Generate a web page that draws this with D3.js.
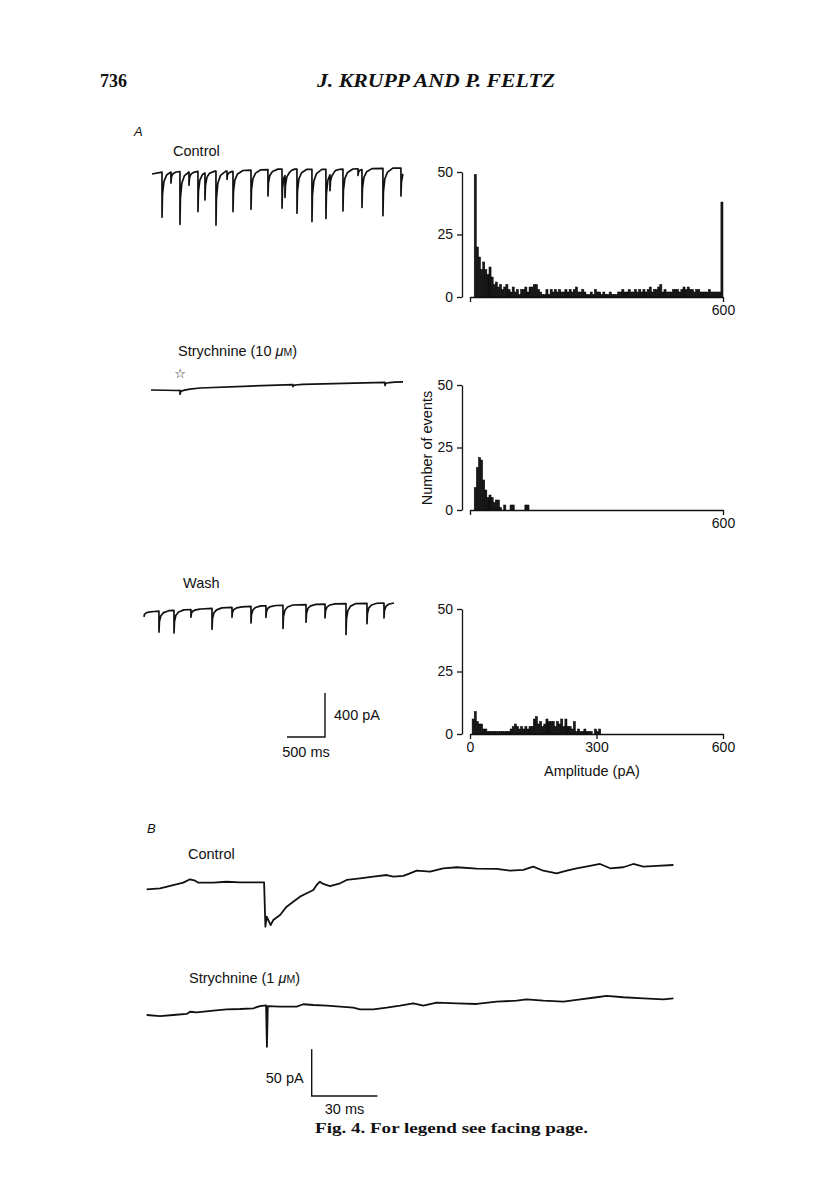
<!DOCTYPE html>
<html>
<head>
<meta charset="utf-8">
<script src="https://cdn.jsdelivr.net/npm/d3@7"></script>
<style>
body { margin: 0; background: #fff; }
svg text { font-family: "Liberation Sans", Arial, sans-serif; fill: #111; }
.serif { font-family: "Liberation Serif", "DejaVu Serif", serif; }
</style>
</head>
<body>
<svg width="816" height="1200"></svg>
<script>

// ---- panel A traces: baseline [ms, pA] and events [ms, amplitude pA] ----
var controlBase = [[0,0],[171,23],[1026,27],[1684,45],[2342,41],[3303,55]];
var controlEvents = [[132,410],[250,100],[368,480],[487,120],[605,365],[697,245],[842,490],[987,75],
  [1066,365],[1303,355],[1526,240],[1711,355],[1750,200],[1908,400],[2105,475],[2289,445],
  [2342,145],[2513,380],[2711,60],[2763,345],[3039,430],[3276,255]];

var strychBase = [[0,0],[355,-4.5],[645,18],[1303,36],[1961,50],[3316,73]];
var strychEvents = [[382,36],[1868,18],[3079,27]];

var washBase = [[0,0],[737,27],[1526,55],[2447,73],[3289,82]];
var washEvents = [[0,45],[197,190],[395,205],[618,70],[895,190],[1158,90],[1408,150],[1605,105],
  [1829,210],[2132,160],[2382,125],[2658,280],[2934,185],[3158,135]];

// ---- amplitude histograms, 5 pA bins from 0 to 600 ----
var binWidth = 5;
var controlCounts = [0,0,49,20,16,11,14,11,9,12, 8,5,6,4,5,3,4,5,3,2,
  4,2,3,1,3,3,4,2,4,4, 5,5,3,2,1,1,3,1,3,2, 3,2,3,2,2,3,2,3,2,3,
  4,2,2,3,2,1,1,2,1,3, 2,2,1,2,1,1,2,1,1,1, 2,2,3,2,2,3,2,2,3,2,
  3,2,3,2,3,4,2,3,3,4, 5,2,3,2,2,2,3,3,3,2, 3,4,3,4,3,3,2,3,3,2,
  2,2,2,3,2,2,2,2,2,38];
var strychCounts = [0,0,9,17,21,20,12,8,5,6, 5,3,4,4,1,0,2,0,0,2,
  2,0,0,0,0,0,2,2,0,0].concat(d3.range(90).map(function(){ return 0; }));
var washCounts = [0,6,9,5,4,4,2,2,1,1, 1,1,1,1,1,1,1,1,1,2,
  3,4,3,2,3,2,3,2,3,3, 6,7,4,5,3,4,6,5,5,5, 3,5,4,6,3,6,3,3,2,5,
  1,2,1,1,2,1,1,1,0,2, 1,2].concat(d3.range(58).map(function(){ return 0; }));

var yTicks = [0, 25, 50];
var xTicksShort = [0, 600];
var xTicksFull = [0, 300, 600];

// ---- panel B traces [ms, pA] ----
var bControl = [[0,0],[6.1,1.1],[12.1,4.6],[16.7,7.1],[19.8,10.7],[22.1,9.2],[23.6,7.1],[30.4,7.1],
  [36.5,8.1],[42.6,7.5],[48.7,7.5],[53.6,7.5],[54.2,-40.1],[54.8,-29.4],[56.6,-38.3],[57.8,-32.9],
  [60.9,-27.5],[63.9,-18.6],[66.9,-13.3],[70.0,-7.9],[73.1,-4.3],[76.1,-0.8],[77.6,4.6],[79.1,8.1],
  [80.6,5.7],[83.7,3.5],[88.3,6.4],[91.3,10.0],[97.4,11.8],[103.5,13.5],[109.6,15.3],[112.6,13.5],
  [117.2,14.3],[120.2,17.1],[123.3,19.9],[129.4,18.9],[135.4,22.5],[141.6,23.6],[150.7,22.1],
  [159.8,21.8],[165.9,19.9],[172.0,20.7],[176.5,24.2],[181.1,19.9],[187.2,17.1],[191.8,19.9],
  [196.3,22.5],[202.4,25.0],[207.0,27.1],[211.6,22.5],[217.6,23.6],[222.2,27.1],[226.8,24.2],
  [232.9,25.0],[240.5,26.0]];
var bStrych = [[0,0],[6.1,-1.1],[12.1,0],[18.3,1.1],[19.8,3.5],[22.8,2.9],[30.4,4.6],[36.5,6.1],
  [42.6,6.4],[48.7,7.2],[51.7,9.6],[54.5,10.4],[54.9,-34.0],[55.3,9.6],[60.9,8.9],[68.5,8.9],
  [71.5,11.5],[76.1,10.7],[82.2,10.0],[88.3,8.9],[94.3,7.8],[97.4,6.1],[103.5,6.1],[109.6,7.8],
  [115.7,10.0],[121.7,12.5],[126.3,10.0],[132.4,13.2],[141.6,12.5],[150.7,11.8],[159.8,14.3],
  [168.9,15.3],[173.5,16.8],[181.1,15.3],[190.3,14.3],[196.3,16.1],[205.5,19.0],[210.0,20.4],
  [217.6,19.0],[226.8,17.9],[235.9,16.8],[240.5,17.9]];

// event glyph: fraction of peak left after dt ms
var decayShape = [[0,1],[6,0.5],[25,0.22],[60,0.08],[130,0]];

var svg = d3.select("svg");

// header
svg.append("text").attr("class","serif").attr("x",100).attr("y",87)
  .attr("font-size",18).attr("font-weight","bold").text("736");
svg.append("text").attr("class","serif").attr("x",317).attr("y",87)
  .attr("font-size",18).attr("font-weight","bold").attr("font-style","italic")
  .attr("textLength",238).attr("lengthAdjust","spacingAndGlyphs")
  .text("J. KRUPP AND P. FELTZ");

// A scales (px per unit), scale bar 500 ms / 400 pA
var xA = d3.scaleLinear().domain([0,500]).range([0,38]);
var yA = d3.scaleLinear().domain([0,400]).range([0,44]);

function buildTrace(base, events){
  var baseAt = d3.scaleLinear().domain(base.map(function(d){return d[0];}))
    .range(base.map(function(d){return d[1];})).clamp(true);
  var shape = d3.scaleLinear().domain(decayShape.map(function(d){return d[0];}))
    .range(decayShape.map(function(d){return d[1];})).clamp(true);
  var tEnd = base[base.length-1][0];
  var times = base.map(function(d){return d[0];});
  events.forEach(function(e){
    times.push(e[0]-0.5);
    decayShape.forEach(function(k){ times.push(e[0]+k[0]); });
  });
  times = Array.from(new Set(times)).filter(function(t){ return t>=0 && t<=tEnd; }).sort(d3.ascending);
  return times.map(function(t){
    var v = baseAt(t);
    events.forEach(function(e){
      var dt = t - e[0];
      if (dt >= 0 && dt <= 130) v -= e[1]*shape(dt);
    });
    return [t, v];
  });
}

function drawTraceA(base, events, x0, y0){
  var line = d3.line()
    .x(function(d){ return x0 + xA(d[0]); })
    .y(function(d){ return y0 - yA(d[1]); });
  svg.append("path").datum(buildTrace(base, events))
    .attr("d", line).attr("fill","none").attr("stroke","#111")
    .attr("stroke-width",1.7).attr("stroke-linejoin","round");
}

function label(x, y, txt, unit){
  var t = svg.append("text").attr("x",x).attr("y",y).attr("font-size",14.5);
  t.append("tspan").text(txt);
  if (unit){
    t.append("tspan").attr("font-style","italic").text("μ");
    t.append("tspan").attr("font-size",10.5).text("M");
    t.append("tspan").text(")");
  }
}

svg.append("text").attr("x",134).attr("y",136).attr("font-size",13)
  .attr("font-style","italic").text("A");

label(173,156,"Control");
drawTraceA(controlBase, controlEvents, 152, 174);

label(178,356,"Strychnine (10 ", true);
drawTraceA(strychBase, strychEvents, 151, 390);
svg.append("text").attr("x",151 + xA(strychEvents[0][0])).attr("y",378)
  .attr("text-anchor","middle").attr("font-size",13)
  .style("font-family","DejaVu Sans").text("☆");

label(183,588,"Wash");
drawTraceA(washBase, washEvents, 144, 612);

// scale bar A
var sbA = svg.append("g").attr("transform","translate(325,737)");
sbA.append("path").attr("d","M" + (-xA(500)) + ",0H0V" + (-yA(400)))
  .attr("fill","none").attr("stroke","#111").attr("stroke-width",1.4);
sbA.append("text").attr("x",9).attr("y",-17).attr("font-size",14.5).text("400 pA");
sbA.append("text").attr("x",-xA(500)/2).attr("y",20).attr("text-anchor","middle")
  .attr("font-size",14.5).text("500 ms");

// histograms
var xH = d3.scaleLinear().domain([0,600]).range([470,723]);

function drawHist(counts, y0, ticks, labelAll){
  var yH = d3.scaleLinear().domain([0,50]).range([y0, y0-125]);
  var g = svg.append("g");
  g.selectAll("rect").data(counts).enter().append("rect")
    .attr("x", function(d,i){ return xH(i*binWidth); })
    .attr("width", xH(binWidth) - xH(0))
    .attr("y", function(d){ return yH(d); })
    .attr("height", function(d){ return y0 - yH(d); })
    .attr("fill","#1a1a1a").attr("stroke","#000").attr("stroke-width",0.5);

  var ay = g.append("g").attr("transform","translate(462,0)")
    .call(d3.axisLeft(yH).tickValues(yTicks).tickSize(5).tickSizeOuter(0).tickPadding(4));
  var ax = g.append("g").attr("transform","translate(0," + y0 + ")")
    .call(d3.axisBottom(xH).tickValues(ticks).tickSize(5).tickSizeOuter(0).tickPadding(3)
      .tickFormat(function(d){ return (labelAll || d == 600) ? d : ""; }));
  [ay, ax].forEach(function(a){
    a.attr("font-family",null).attr("font-size",14);
    a.selectAll("path,line").attr("stroke","#111").attr("stroke-width",1.3);
    a.selectAll("text").attr("fill","#111");
  });
}

drawHist(controlCounts, 297, xTicksShort, false);
drawHist(strychCounts, 510, xTicksShort, false);
drawHist(washCounts, 734, xTicksFull, true);

svg.append("text").attr("transform","translate(432,448) rotate(-90)")
  .attr("text-anchor","middle").attr("font-size",14.5).text("Number of events");
svg.append("text").attr("x",592).attr("y",776).attr("text-anchor","middle")
  .attr("font-size",14.5).text("Amplitude (pA)");

// ---- panel B ----
var xB = d3.scaleLinear().domain([0,30]).range([0,65.7]);
var yB = d3.scaleLinear().domain([0,50]).range([0,46.7]);

function drawTraceB(data, x0, y0){
  var line = d3.line()
    .x(function(d){ return x0 + xB(d[0]); })
    .y(function(d){ return y0 - yB(d[1]); });
  svg.append("path").datum(data).attr("d", line).attr("fill","none")
    .attr("stroke","#111").attr("stroke-width",1.8).attr("stroke-linejoin","round");
}

svg.append("text").attr("x",147).attr("y",833).attr("font-size",13)
  .attr("font-style","italic").text("B");
label(188,859,"Control");
drawTraceB(bControl, 146.7, 889.3);
label(189,983,"Strychnine (1 ", true);
drawTraceB(bStrych, 146.7, 1015);

// scale bar B
var sbB = svg.append("g").attr("transform","translate(311.7,1096)");
sbB.append("path").attr("d","M0," + (-yB(50)) + "V0H" + xB(30))
  .attr("fill","none").attr("stroke","#111").attr("stroke-width",1.4);
sbB.append("text").attr("x",-8).attr("y",-13).attr("text-anchor","end")
  .attr("font-size",14.5).text("50 pA");
sbB.append("text").attr("x",xB(30)/2).attr("y",18).attr("text-anchor","middle")
  .attr("font-size",14.5).text("30 ms");

svg.append("text").attr("class","serif").attr("x",315).attr("y",1133)
  .attr("font-size",15.5).attr("font-weight","bold")
  .attr("textLength",273).attr("lengthAdjust","spacingAndGlyphs")
  .text("Fig. 4. For legend see facing page.");

</script>
</body>
</html>
